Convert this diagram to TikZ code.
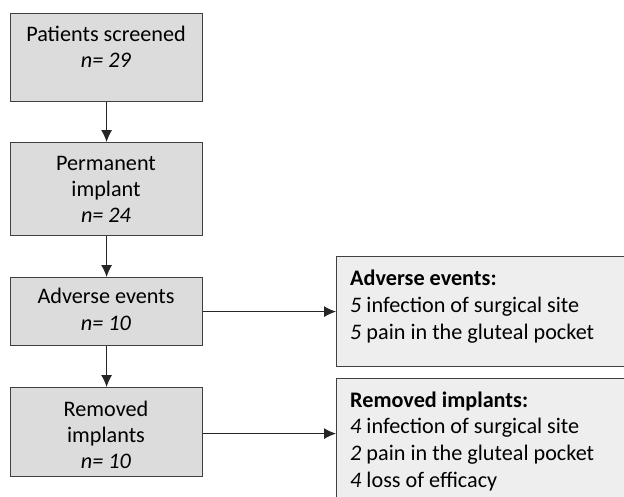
\documentclass[tikz,border=0pt]{standalone}
\usepackage{fontspec}
\setmainfont{Carlito}
\usetikzlibrary{arrows.meta}
\definecolor{leftfill}{RGB}{220,220,220}
\definecolor{rightfill}{RGB}{238,238,238}
\definecolor{edgecol}{RGB}{64,64,64}
\begin{document}
\begin{tikzpicture}[x=1pt,y=1pt,
  lbox/.style={draw=edgecol,line width=1.2pt,fill=leftfill,minimum width=192pt,inner sep=0pt,anchor=north west},
  rbox/.style={draw=edgecol,line width=1.2pt,fill=rightfill,minimum width=298pt,inner sep=0pt,anchor=north west},
  txt/.style={inner sep=0pt,font=\fontsize{22.2}{26}\selectfont},
  ctxt/.style={txt,anchor=base},
  ltxt/.style={txt,anchor=base west},
  conn/.style={draw=black!85,line width=1pt,-{Latex[length=12pt,width=11pt]}}]
\useasboundingbox (0,0) rectangle (624,-496);
\clip (0,0) rectangle (624,-496);
% left boxes
\node[lbox,minimum height=88pt] (b1) at (10,-13) {};
\node[lbox,minimum height=93pt] (b2) at (10,-142) {};
\node[lbox,minimum height=68pt] (b3) at (10,-277) {};
\node[lbox,minimum height=89pt] (b4) at (10,-387) {};
% right boxes
\node[rbox,minimum height=110pt] (r1) at (336,-256) {};
\node[rbox,minimum height=130pt] (r2) at (336,-378) {};
% left texts
\node[ctxt] (t1a) at (106,-41) {Patients screened};
\node[ctxt] (t1b) at (106,-67) {\textit{n= 29}};
\node[ctxt] (t2a) at (106,-170) {Permanent};
\node[ctxt] (t2b) at (106,-196) {implant};
\node[ctxt] (t2c) at (106,-222) {\textit{n= 24}};
\node[ctxt] (t3a) at (106,-303) {Adverse events};
\node[ctxt] (t3b) at (106,-330) {\textit{n= 10}};
\node[ctxt] (t4a) at (106,-416) {Removed};
\node[ctxt] (t4b) at (106,-442) {implants};
\node[ctxt] (t4c) at (106,-468) {\textit{n= 10}};
% right texts
\node[ltxt] (s1a) at (350,-285) {\textbf{Adverse events:}};
\node[ltxt] (s1b) at (350,-312) {\textit{5} infection of surgical site};
\node[ltxt] (s1c) at (350,-339) {\textit{5} pain in the gluteal pocket};
\node[ltxt] (s2a) at (350,-407) {\textbf{Removed implants:}};
\node[ltxt] (s2b) at (350,-433) {\textit{4} infection of surgical site};
\node[ltxt] (s2c) at (350,-460) {\textit{2} pain in the gluteal pocket};
\node[ltxt] (s2d) at (350,-487) {\textit{4} loss of efficacy};
% connectors
\draw[conn] (b1.south) -- (b2.north);
\draw[conn] (b2.south) -- (b3.north);
\draw[conn] (b3.south) -- (b4.north);
\draw[conn] (b3.east) -- (b3.east -| r1.west);
\draw[conn] ([yshift=-1.5pt]b4.east) -- ([yshift=-1.5pt]b4.east -| r2.west);
\end{tikzpicture}
\end{document}
